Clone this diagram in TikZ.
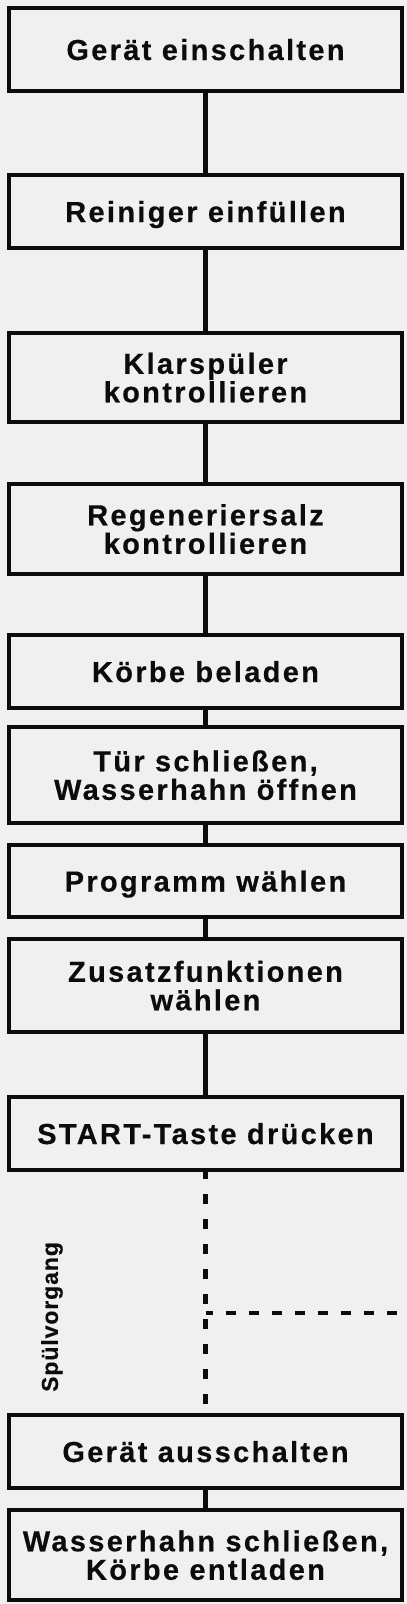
\documentclass[tikz,border=0pt]{standalone}
\usepackage{fontspec}
\setmainfont{Liberation Sans}
\newfontface\boxfont[LetterSpace=8,FakeBold=0.4]{Liberation Sans Bold}
\newfontface\sidefont[LetterSpace=4,FakeBold=0.3]{Liberation Sans Bold}
\definecolor{bg}{RGB}{240,240,240}
\definecolor{ink}{RGB}{12,12,12}
\begin{document}
\begin{tikzpicture}[x=1pt,y=1pt,
  stepbox/.style={draw=ink, fill=bg, line width=4.2pt, minimum width=393pt,
    inner sep=0pt, align=center, text depth=0pt, text=ink,
    font=\boxfont\fontsize{29}{28.5}\selectfont},
  link/.style={draw=ink, line width=4.4pt},
  dashlink/.style={draw=ink, line width=4.4pt, dash pattern=on 10pt off 15pt},
  sidelabel/.style={text=ink, rotate=90, inner sep=0pt, font=\sidefont\fontsize{23}{23}\selectfont}]
\fill[bg] (0,0) rectangle (407,-1604);
\useasboundingbox (0,0) rectangle (407,-1604);

\node[stepbox, minimum height=83pt] (n1) at (205.5,-49.5) {Gerät einschalten};
\node[stepbox, minimum height=73pt] (n2) at (205.5,-211.5) {Reiniger einfüllen};
\node[stepbox, minimum height=89pt] (n3) at (205.5,-377.5) {Klarspüler\\kontrollieren};
\node[stepbox, minimum height=90pt] (n4) at (205.5,-529) {Regeneriersalz\\kontrollieren};
\node[stepbox, minimum height=73pt] (n5) at (205.5,-671.5) {Körbe beladen};
\node[stepbox, minimum height=96pt] (n6) at (205.5,-775) {Tür schließen,\\Wasserhahn öffnen};
\node[stepbox, minimum height=72pt] (n7) at (205.5,-881) {Programm wählen};
\node[stepbox, minimum height=93pt] (n8) at (205.5,-985.5) {Zusatzfunktionen\\wählen};
\node[stepbox, minimum height=73pt] (n9) at (205.5,-1133.5) {START-Taste drücken};
\node[stepbox, minimum height=73pt] (n10) at (205.5,-1451.5) {Gerät ausschalten};
\node[stepbox, minimum height=90pt] (n11) at (205.5,-1555) {Wasserhahn schließen,\\Körbe entladen};

\node[sidelabel] (sv) at (52,-1317) {Spülvorgang};

\coordinate (j) at (205.5,-1313);
\coordinate (e) at (407,-1313);

\draw[link] (n1.south) -- (n2.north);
\draw[link] (n2.south) -- (n3.north);
\draw[link] (n3.south) -- (n4.north);
\draw[link] (n4.south) -- (n5.north);
\draw[link] (n5.south) -- (n6.north);
\draw[link] (n6.south) -- (n7.north);
\draw[link] (n7.south) -- (n8.north);
\draw[link] (n8.south) -- (n9.north);
\draw[link] (n10.south) -- (n11.north);
\draw[dashlink, dash phase=3pt] (n9.south) -- (n10.north);
\draw[dashlink, dash pattern=on 10pt off 13pt, dash phase=3pt] (j) -- (e);
\end{tikzpicture}
\end{document}
